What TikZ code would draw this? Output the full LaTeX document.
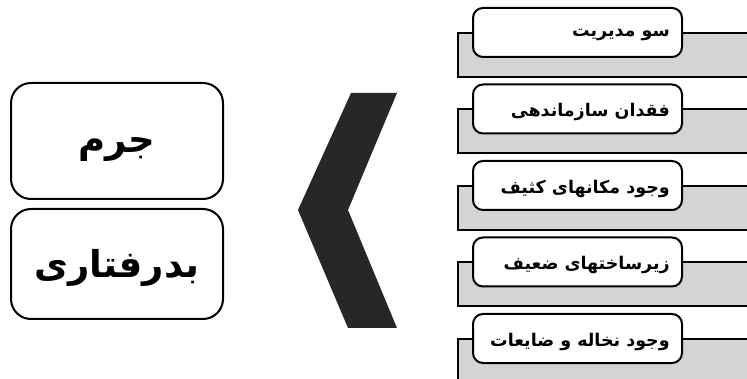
\documentclass[tikz,border=0pt]{standalone}
\usepackage{fontspec}
\TeXXeTstate=1
\newfontfamily\arabicfont[Script=Arabic]{DejaVu Sans}
\definecolor{graybar}{HTML}{D4D4D4}
\definecolor{chev}{HTML}{272727}
\tikzset{
  graybox/.style={draw=black, line width=2pt, fill=graybar},
  itembox/.style={draw=black, line width=2pt, fill=white, rounded corners=10pt,
    minimum width=209pt, minimum height=49pt, inner sep=0pt, anchor=north west},
  itemtext/.style={anchor=east, inner sep=0pt, font=\arabicfont\bfseries\fontsize{17.5}{20}\selectfont},
  bigbox/.style={draw=black, line width=2pt, fill=white, rounded corners=20pt,
    minimum width=212pt, inner sep=0pt, anchor=north west},
  bigtext/.style={inner sep=0pt, font=\arabicfont\bfseries\fontsize{37}{42}\selectfont},
}
\begin{document}
\begin{tikzpicture}[x=1pt, y=-1pt]
\useasboundingbox (0,0) rectangle (747,379);
\clip (0,0) rectangle (747,379);
% left boxes
\node[bigbox, minimum height=116pt] (b1) at (10,82) {};
\node[bigtext] (b1t) at ([yshift=-9pt]b1.center) {\beginR جرم\endR};
\node[bigbox, minimum height=110pt] (b2) at (10,208) {};
\node[bigtext] (b2t) at ([yshift=-4pt]b2.center) {\beginR بدرفتاری\endR};
% chevron
\fill[chev] (351,93) -- (397,93) -- (348,210) -- (397,328) -- (348,328) -- (298,210) -- cycle;
% right rows
\foreach \i/\t in {0/{سو مدیریت},1/{فقدان سازماندهی},2/{وجود مکانهای کثیف},3/{زیرساختهای ضعیف},4/{وجود نخاله و ضایعات}}{
  \pgfmathsetmacro{\gy}{32+76.5*\i}
  \node[graybox, anchor=north west, minimum width=320pt, minimum height=44pt, inner sep=0pt] (g\i) at (457,\gy) {};
  \node[itembox] (w\i) at (472,\gy-25) {};
  \node[itemtext] (l\i) at ([xshift=-13pt, yshift=-3pt]w\i.east) {\beginR\t\endR};
}
\end{tikzpicture}
\end{document}
